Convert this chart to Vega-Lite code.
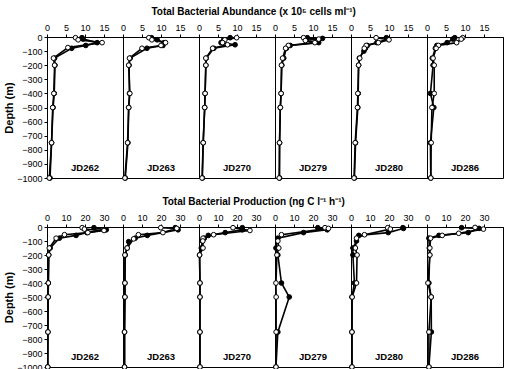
{
  "$schema": "https://vega.github.io/schema/vega-lite/v6.json",
  "padding": {"left": 3, "top": 7, "right": 0, "bottom": 0},
  "background": "white",
  "datasets": {
    "abundance": [
      {"cast": "JD262", "series": "filled", "depth": -5, "value": 9.2},
      {"cast": "JD262", "series": "filled", "depth": -15, "value": 9.5},
      {"cast": "JD262", "series": "filled", "depth": -40, "value": 13.2},
      {"cast": "JD262", "series": "filled", "depth": -60, "value": 10.2},
      {"cast": "JD262", "series": "filled", "depth": -80, "value": 6.5},
      {"cast": "JD262", "series": "filled", "depth": -150, "value": 2.0},
      {"cast": "JD262", "series": "filled", "depth": -200, "value": 2.1},
      {"cast": "JD262", "series": "filled", "depth": -400, "value": 1.9},
      {"cast": "JD262", "series": "filled", "depth": -500, "value": 1.6},
      {"cast": "JD262", "series": "filled", "depth": -750, "value": 1.2},
      {"cast": "JD262", "series": "filled", "depth": -1000, "value": 0.8},
      {"cast": "JD262", "series": "open", "depth": -5, "value": 7.5},
      {"cast": "JD262", "series": "open", "depth": -20, "value": 8.2},
      {"cast": "JD262", "series": "open", "depth": -40, "value": 14.5},
      {"cast": "JD262", "series": "open", "depth": -75, "value": 5.5},
      {"cast": "JD262", "series": "open", "depth": -150, "value": 1.7},
      {"cast": "JD262", "series": "open", "depth": -200, "value": 2.0},
      {"cast": "JD262", "series": "open", "depth": -400, "value": 1.8},
      {"cast": "JD262", "series": "open", "depth": -500, "value": 1.5},
      {"cast": "JD262", "series": "open", "depth": -750, "value": 1.2},
      {"cast": "JD262", "series": "open", "depth": -1000, "value": 0.6},

      {"cast": "JD263", "series": "filled", "depth": -5, "value": 7.5},
      {"cast": "JD263", "series": "filled", "depth": -20, "value": 9.0},
      {"cast": "JD263", "series": "filled", "depth": -40, "value": 10.8},
      {"cast": "JD263", "series": "filled", "depth": -60, "value": 10.5},
      {"cast": "JD263", "series": "filled", "depth": -80, "value": 6.3},
      {"cast": "JD263", "series": "filled", "depth": -150, "value": 1.9},
      {"cast": "JD263", "series": "filled", "depth": -200, "value": 1.6},
      {"cast": "JD263", "series": "filled", "depth": -400, "value": 1.7},
      {"cast": "JD263", "series": "filled", "depth": -500, "value": 1.5},
      {"cast": "JD263", "series": "filled", "depth": -750, "value": 1.3},
      {"cast": "JD263", "series": "filled", "depth": -1000, "value": 0.6},
      {"cast": "JD263", "series": "open", "depth": -5, "value": 6.8},
      {"cast": "JD263", "series": "open", "depth": -20, "value": 7.6},
      {"cast": "JD263", "series": "open", "depth": -40, "value": 11.2},
      {"cast": "JD263", "series": "open", "depth": -60, "value": 10.0},
      {"cast": "JD263", "series": "open", "depth": -80, "value": 5.0},
      {"cast": "JD263", "series": "open", "depth": -150, "value": 1.7},
      {"cast": "JD263", "series": "open", "depth": -200, "value": 1.5},
      {"cast": "JD263", "series": "open", "depth": -400, "value": 1.8},
      {"cast": "JD263", "series": "open", "depth": -500, "value": 1.5},
      {"cast": "JD263", "series": "open", "depth": -750, "value": 1.2},
      {"cast": "JD263", "series": "open", "depth": -1000, "value": 0.5},

      {"cast": "JD270", "series": "filled", "depth": -5, "value": 8.2},
      {"cast": "JD270", "series": "filled", "depth": -20, "value": 6.5},
      {"cast": "JD270", "series": "filled", "depth": -40, "value": 5.8},
      {"cast": "JD270", "series": "filled", "depth": -55, "value": 9.5},
      {"cast": "JD270", "series": "filled", "depth": -80, "value": 3.9},
      {"cast": "JD270", "series": "filled", "depth": -150, "value": 1.9},
      {"cast": "JD270", "series": "filled", "depth": -200, "value": 1.8},
      {"cast": "JD270", "series": "filled", "depth": -400, "value": 1.6},
      {"cast": "JD270", "series": "filled", "depth": -500, "value": 1.5},
      {"cast": "JD270", "series": "filled", "depth": -750, "value": 1.1},
      {"cast": "JD270", "series": "filled", "depth": -1000, "value": 0.9},
      {"cast": "JD270", "series": "open", "depth": -5, "value": 9.9},
      {"cast": "JD270", "series": "open", "depth": -20, "value": 6.8},
      {"cast": "JD270", "series": "open", "depth": -40, "value": 6.2},
      {"cast": "JD270", "series": "open", "depth": -55, "value": 7.5},
      {"cast": "JD270", "series": "open", "depth": -80, "value": 3.6},
      {"cast": "JD270", "series": "open", "depth": -150, "value": 1.8},
      {"cast": "JD270", "series": "open", "depth": -200, "value": 1.8},
      {"cast": "JD270", "series": "open", "depth": -400, "value": 1.6},
      {"cast": "JD270", "series": "open", "depth": -500, "value": 1.5},
      {"cast": "JD270", "series": "open", "depth": -750, "value": 1.1},
      {"cast": "JD270", "series": "open", "depth": -1000, "value": 0.8},

      {"cast": "JD279", "series": "filled", "depth": -5, "value": 8.5},
      {"cast": "JD279", "series": "filled", "depth": -10, "value": 12.5},
      {"cast": "JD279", "series": "filled", "depth": -40, "value": 11.5},
      {"cast": "JD279", "series": "filled", "depth": -60, "value": 4.0},
      {"cast": "JD279", "series": "filled", "depth": -80, "value": 3.0},
      {"cast": "JD279", "series": "filled", "depth": -150, "value": 2.3},
      {"cast": "JD279", "series": "filled", "depth": -200, "value": 1.8},
      {"cast": "JD279", "series": "filled", "depth": -400, "value": 1.6},
      {"cast": "JD279", "series": "filled", "depth": -500, "value": 1.4},
      {"cast": "JD279", "series": "filled", "depth": -750, "value": 1.2},
      {"cast": "JD279", "series": "filled", "depth": -1000, "value": 1.2},
      {"cast": "JD279", "series": "open", "depth": -5, "value": 7.5},
      {"cast": "JD279", "series": "open", "depth": -15, "value": 11.5},
      {"cast": "JD279", "series": "open", "depth": -25, "value": 8.0},
      {"cast": "JD279", "series": "open", "depth": -40, "value": 10.5},
      {"cast": "JD279", "series": "open", "depth": -60, "value": 3.5},
      {"cast": "JD279", "series": "open", "depth": -80, "value": 2.8},
      {"cast": "JD279", "series": "open", "depth": -150, "value": 2.0},
      {"cast": "JD279", "series": "open", "depth": -200, "value": 1.7},
      {"cast": "JD279", "series": "open", "depth": -400, "value": 1.6},
      {"cast": "JD279", "series": "open", "depth": -500, "value": 1.4},
      {"cast": "JD279", "series": "open", "depth": -750, "value": 1.2},
      {"cast": "JD279", "series": "open", "depth": -1000, "value": 1.1},

      {"cast": "JD280", "series": "filled", "depth": -5, "value": 9.3},
      {"cast": "JD280", "series": "filled", "depth": -15, "value": 9.8},
      {"cast": "JD280", "series": "filled", "depth": -40, "value": 6.8},
      {"cast": "JD280", "series": "filled", "depth": -60, "value": 4.3},
      {"cast": "JD280", "series": "filled", "depth": -80, "value": 3.8},
      {"cast": "JD280", "series": "filled", "depth": -100, "value": 3.4},
      {"cast": "JD280", "series": "filled", "depth": -150, "value": 2.2},
      {"cast": "JD280", "series": "filled", "depth": -200, "value": 2.0},
      {"cast": "JD280", "series": "filled", "depth": -400, "value": 1.9},
      {"cast": "JD280", "series": "filled", "depth": -500, "value": 1.8},
      {"cast": "JD280", "series": "filled", "depth": -750, "value": 1.2},
      {"cast": "JD280", "series": "filled", "depth": -1000, "value": 0.9},
      {"cast": "JD280", "series": "open", "depth": -5, "value": 6.6},
      {"cast": "JD280", "series": "open", "depth": -20, "value": 10.0},
      {"cast": "JD280", "series": "open", "depth": -40, "value": 7.2},
      {"cast": "JD280", "series": "open", "depth": -60, "value": 4.0},
      {"cast": "JD280", "series": "open", "depth": -80, "value": 3.5},
      {"cast": "JD280", "series": "open", "depth": -150, "value": 2.3},
      {"cast": "JD280", "series": "open", "depth": -200, "value": 2.0},
      {"cast": "JD280", "series": "open", "depth": -400, "value": 1.8},
      {"cast": "JD280", "series": "open", "depth": -500, "value": 1.7},
      {"cast": "JD280", "series": "open", "depth": -750, "value": 1.1},
      {"cast": "JD280", "series": "open", "depth": -1000, "value": 0.8},

      {"cast": "JD286", "series": "filled", "depth": -5, "value": 7.3},
      {"cast": "JD286", "series": "filled", "depth": -15, "value": 6.8},
      {"cast": "JD286", "series": "filled", "depth": -40, "value": 5.3},
      {"cast": "JD286", "series": "filled", "depth": -60, "value": 2.6},
      {"cast": "JD286", "series": "filled", "depth": -80, "value": 2.2},
      {"cast": "JD286", "series": "filled", "depth": -150, "value": 1.4},
      {"cast": "JD286", "series": "filled", "depth": -200, "value": 1.6},
      {"cast": "JD286", "series": "filled", "depth": -400, "value": 0.9},
      {"cast": "JD286", "series": "filled", "depth": -500, "value": 1.8},
      {"cast": "JD286", "series": "filled", "depth": -750, "value": 0.9},
      {"cast": "JD286", "series": "filled", "depth": -1000, "value": 1.0},
      {"cast": "JD286", "series": "open", "depth": -5, "value": 9.4},
      {"cast": "JD286", "series": "open", "depth": -15, "value": 9.0},
      {"cast": "JD286", "series": "open", "depth": -40, "value": 7.8},
      {"cast": "JD286", "series": "open", "depth": -60, "value": 3.0},
      {"cast": "JD286", "series": "open", "depth": -80, "value": 2.4},
      {"cast": "JD286", "series": "open", "depth": -150, "value": 1.6},
      {"cast": "JD286", "series": "open", "depth": -200, "value": 1.9},
      {"cast": "JD286", "series": "open", "depth": -400, "value": 1.9},
      {"cast": "JD286", "series": "open", "depth": -500, "value": 1.3},
      {"cast": "JD286", "series": "open", "depth": -750, "value": 1.1},
      {"cast": "JD286", "series": "open", "depth": -1000, "value": 1.0}
    ],
    "production": [
      {"cast": "JD262", "series": "filled", "depth": -5, "value": 24.7},
      {"cast": "JD262", "series": "filled", "depth": -20, "value": 31.2},
      {"cast": "JD262", "series": "filled", "depth": -40, "value": 21.0},
      {"cast": "JD262", "series": "filled", "depth": -60, "value": 15.3},
      {"cast": "JD262", "series": "filled", "depth": -80, "value": 6.5},
      {"cast": "JD262", "series": "filled", "depth": -150, "value": 1.7},
      {"cast": "JD262", "series": "filled", "depth": -200, "value": 0.9},
      {"cast": "JD262", "series": "filled", "depth": -400, "value": 0.7},
      {"cast": "JD262", "series": "filled", "depth": -500, "value": 0.6},
      {"cast": "JD262", "series": "filled", "depth": -750, "value": 0.5},
      {"cast": "JD262", "series": "filled", "depth": -1000, "value": 0.4},
      {"cast": "JD262", "series": "open", "depth": -5, "value": 18.5},
      {"cast": "JD262", "series": "open", "depth": -15, "value": 19.7},
      {"cast": "JD262", "series": "open", "depth": -25, "value": 30.0},
      {"cast": "JD262", "series": "open", "depth": -40, "value": 21.5},
      {"cast": "JD262", "series": "open", "depth": -55, "value": 9.2},
      {"cast": "JD262", "series": "open", "depth": -80, "value": 4.8},
      {"cast": "JD262", "series": "open", "depth": -150, "value": 1.2},
      {"cast": "JD262", "series": "open", "depth": -200, "value": 0.9},
      {"cast": "JD262", "series": "open", "depth": -400, "value": 0.7},
      {"cast": "JD262", "series": "open", "depth": -500, "value": 0.6},
      {"cast": "JD262", "series": "open", "depth": -750, "value": 0.5},
      {"cast": "JD262", "series": "open", "depth": -1000, "value": 0.4},

      {"cast": "JD263", "series": "filled", "depth": -5, "value": 27.5},
      {"cast": "JD263", "series": "filled", "depth": -20, "value": 29.0},
      {"cast": "JD263", "series": "filled", "depth": -60, "value": 12.8},
      {"cast": "JD263", "series": "filled", "depth": -80, "value": 6.4},
      {"cast": "JD263", "series": "filled", "depth": -105, "value": 3.0},
      {"cast": "JD263", "series": "filled", "depth": -150, "value": 2.2},
      {"cast": "JD263", "series": "filled", "depth": -200, "value": 1.2},
      {"cast": "JD263", "series": "filled", "depth": -400, "value": 1.0},
      {"cast": "JD263", "series": "filled", "depth": -500, "value": 1.0},
      {"cast": "JD263", "series": "filled", "depth": -750, "value": 0.8},
      {"cast": "JD263", "series": "filled", "depth": -1000, "value": 0.8},
      {"cast": "JD263", "series": "open", "depth": -5, "value": 19.9},
      {"cast": "JD263", "series": "open", "depth": -10, "value": 28.3},
      {"cast": "JD263", "series": "open", "depth": -40, "value": 21.0},
      {"cast": "JD263", "series": "open", "depth": -55, "value": 8.1},
      {"cast": "JD263", "series": "open", "depth": -85, "value": 5.6},
      {"cast": "JD263", "series": "open", "depth": -150, "value": 2.2},
      {"cast": "JD263", "series": "open", "depth": -200, "value": 1.0},
      {"cast": "JD263", "series": "open", "depth": -400, "value": 1.0},
      {"cast": "JD263", "series": "open", "depth": -500, "value": 1.0},
      {"cast": "JD263", "series": "open", "depth": -750, "value": 0.8},
      {"cast": "JD263", "series": "open", "depth": -1000, "value": 0.8},

      {"cast": "JD270", "series": "filled", "depth": -5, "value": 22.8},
      {"cast": "JD270", "series": "filled", "depth": -20, "value": 22.8},
      {"cast": "JD270", "series": "filled", "depth": -40, "value": 13.8},
      {"cast": "JD270", "series": "filled", "depth": -60, "value": 4.9},
      {"cast": "JD270", "series": "filled", "depth": -80, "value": 2.8},
      {"cast": "JD270", "series": "filled", "depth": -100, "value": 1.8},
      {"cast": "JD270", "series": "filled", "depth": -150, "value": 1.2},
      {"cast": "JD270", "series": "filled", "depth": -200, "value": 0.3},
      {"cast": "JD270", "series": "filled", "depth": -400, "value": 0.5},
      {"cast": "JD270", "series": "filled", "depth": -500, "value": 0.5},
      {"cast": "JD270", "series": "filled", "depth": -750, "value": 0.5},
      {"cast": "JD270", "series": "filled", "depth": -1000, "value": 0.5},
      {"cast": "JD270", "series": "open", "depth": -5, "value": 17.9},
      {"cast": "JD270", "series": "open", "depth": -25, "value": 26.8},
      {"cast": "JD270", "series": "open", "depth": -55, "value": 7.7},
      {"cast": "JD270", "series": "open", "depth": -80, "value": 2.1},
      {"cast": "JD270", "series": "open", "depth": -100, "value": 2.0},
      {"cast": "JD270", "series": "open", "depth": -150, "value": 2.1},
      {"cast": "JD270", "series": "open", "depth": -200, "value": 0.3},
      {"cast": "JD270", "series": "open", "depth": -400, "value": 0.5},
      {"cast": "JD270", "series": "open", "depth": -500, "value": 0.5},
      {"cast": "JD270", "series": "open", "depth": -750, "value": 0.5},
      {"cast": "JD270", "series": "open", "depth": -1000, "value": 0.5},

      {"cast": "JD279", "series": "filled", "depth": -5, "value": 22.5},
      {"cast": "JD279", "series": "filled", "depth": -20, "value": 27.5},
      {"cast": "JD279", "series": "filled", "depth": -40, "value": 15.0},
      {"cast": "JD279", "series": "filled", "depth": -80, "value": 1.5},
      {"cast": "JD279", "series": "filled", "depth": -150, "value": 0.5},
      {"cast": "JD279", "series": "filled", "depth": -200, "value": 1.5},
      {"cast": "JD279", "series": "filled", "depth": -400, "value": 3.4},
      {"cast": "JD279", "series": "filled", "depth": -500, "value": 7.5},
      {"cast": "JD279", "series": "filled", "depth": -750, "value": 1.5},
      {"cast": "JD279", "series": "filled", "depth": -1000, "value": 0.5},
      {"cast": "JD279", "series": "open", "depth": -5, "value": 26.3},
      {"cast": "JD279", "series": "open", "depth": -10, "value": 28.1},
      {"cast": "JD279", "series": "open", "depth": -55, "value": 3.4},
      {"cast": "JD279", "series": "open", "depth": -100, "value": 1.5},
      {"cast": "JD279", "series": "open", "depth": -150, "value": 2.0},
      {"cast": "JD279", "series": "open", "depth": -200, "value": 1.0},
      {"cast": "JD279", "series": "open", "depth": -400, "value": 0.5},
      {"cast": "JD279", "series": "open", "depth": -500, "value": 0.6},
      {"cast": "JD279", "series": "open", "depth": -750, "value": 0.6},
      {"cast": "JD279", "series": "open", "depth": -1000, "value": 0.5},

      {"cast": "JD280", "series": "filled", "depth": -5, "value": 27.3},
      {"cast": "JD280", "series": "filled", "depth": -10, "value": 27.6},
      {"cast": "JD280", "series": "filled", "depth": -40, "value": 19.6},
      {"cast": "JD280", "series": "filled", "depth": -60, "value": 4.1},
      {"cast": "JD280", "series": "filled", "depth": -100, "value": 2.9},
      {"cast": "JD280", "series": "filled", "depth": -150, "value": 1.0},
      {"cast": "JD280", "series": "filled", "depth": -200, "value": 1.0},
      {"cast": "JD280", "series": "filled", "depth": -400, "value": 1.8},
      {"cast": "JD280", "series": "filled", "depth": -500, "value": 0.5},
      {"cast": "JD280", "series": "filled", "depth": -750, "value": 0.5},
      {"cast": "JD280", "series": "filled", "depth": -1000, "value": 0.5},
      {"cast": "JD280", "series": "open", "depth": -5, "value": 19.3},
      {"cast": "JD280", "series": "open", "depth": -15, "value": 20.7},
      {"cast": "JD280", "series": "open", "depth": -55, "value": 7.1},
      {"cast": "JD280", "series": "open", "depth": -80, "value": 2.9},
      {"cast": "JD280", "series": "open", "depth": -150, "value": 2.3},
      {"cast": "JD280", "series": "open", "depth": -200, "value": 3.2},
      {"cast": "JD280", "series": "open", "depth": -400, "value": 2.9},
      {"cast": "JD280", "series": "open", "depth": -500, "value": 0.6},
      {"cast": "JD280", "series": "open", "depth": -750, "value": 0.5},
      {"cast": "JD280", "series": "open", "depth": -1000, "value": 0.5},

      {"cast": "JD286", "series": "filled", "depth": -5, "value": 18.2},
      {"cast": "JD286", "series": "filled", "depth": -10, "value": 27.4},
      {"cast": "JD286", "series": "filled", "depth": -40, "value": 21.7},
      {"cast": "JD286", "series": "filled", "depth": -60, "value": 6.3},
      {"cast": "JD286", "series": "filled", "depth": -80, "value": 1.0},
      {"cast": "JD286", "series": "filled", "depth": -150, "value": 1.2},
      {"cast": "JD286", "series": "filled", "depth": -200, "value": 1.4},
      {"cast": "JD286", "series": "filled", "depth": -400, "value": 1.0},
      {"cast": "JD286", "series": "filled", "depth": -500, "value": 2.2},
      {"cast": "JD286", "series": "filled", "depth": -750, "value": 2.3},
      {"cast": "JD286", "series": "filled", "depth": -1000, "value": 1.0},
      {"cast": "JD286", "series": "open", "depth": -3, "value": 25.3},
      {"cast": "JD286", "series": "open", "depth": -15, "value": 29.7},
      {"cast": "JD286", "series": "open", "depth": -45, "value": 16.7},
      {"cast": "JD286", "series": "open", "depth": -60, "value": 8.0},
      {"cast": "JD286", "series": "open", "depth": -80, "value": 1.9},
      {"cast": "JD286", "series": "open", "depth": -150, "value": 1.5},
      {"cast": "JD286", "series": "open", "depth": -200, "value": 1.5},
      {"cast": "JD286", "series": "open", "depth": -400, "value": 0.5},
      {"cast": "JD286", "series": "open", "depth": -500, "value": 2.2},
      {"cast": "JD286", "series": "open", "depth": -750, "value": 1.0},
      {"cast": "JD286", "series": "open", "depth": -1000, "value": 1.0}
    ]
  },
  "vconcat": [
    {
      "data": {"name": "abundance"},
      "title": {"text": "Total Bacterial Abundance (x 10⁵ cells ml⁻¹)", "fontSize": 10, "fontWeight": "bold", "anchor": "middle", "offset": 6},
      "facet": {"column": {"field": "cast", "type": "nominal", "header": {"title": null, "labels": false}}},
      "spacing": 0,
      "bounds": "flush",
      "spec": {
        "width": 76,
        "height": 141,
        "encoding": {
          "x": {"field": "value", "type": "quantitative", "scale": {"domain": [0, 20]},
                "axis": {"orient": "top", "values": [0, 5, 10, 15], "title": null, "labelOverlap": false, "labelBound": false, "labelFlush": false}},
          "y": {"field": "depth", "type": "quantitative", "scale": {"domain": [-1000, 0]},
                "axis": {"values": [0, -100, -200, -300, -400, -500, -600, -700, -800, -900, -1000], "format": "d", "title": "Depth (m)", "labelOverlap": false, "labelBound": false}}
        },
        "layer": [
          {
            "mark": {"type": "line", "color": "black", "strokeWidth": 1.6},
            "encoding": {
              "detail": {"field": "series"},
              "order": {"field": "depth"}
            }
          },
          {
            "mark": {"type": "point", "shape": "circle", "size": 22, "stroke": "black", "strokeWidth": 1, "opacity": 1},
            "encoding": {
              "fill": {"field": "series", "type": "nominal", "scale": {"domain": ["filled", "open"], "range": ["black", "white"]}, "legend": null}
            }
          },
          {
            "transform": [{"filter": "datum.series == 'filled' && datum.depth == -1000"}],
            "mark": {"type": "text", "fontSize": 9.5, "fontWeight": "bold", "baseline": "middle", "align": "center"},
            "encoding": {
              "x": {"datum": 10},
              "y": {"datum": -930},
              "text": {"field": "cast"}
            }
          }
        ]
      }
    },
    {
      "data": {"name": "production"},
      "title": {"text": "Total Bacterial Production (ng C l⁻¹ h⁻¹)", "fontSize": 10, "fontWeight": "bold", "anchor": "middle", "offset": 6},
      "facet": {"column": {"field": "cast", "type": "nominal", "header": {"title": null, "labels": false}}},
      "spacing": 0,
      "bounds": "flush",
      "spec": {
        "width": 76,
        "height": 140,
        "encoding": {
          "x": {"field": "value", "type": "quantitative", "scale": {"domain": [0, 40]},
                "axis": {"orient": "top", "values": [0, 10, 20, 30], "title": null, "labelOverlap": false, "labelBound": false, "labelFlush": false}},
          "y": {"field": "depth", "type": "quantitative", "scale": {"domain": [-1000, 0]},
                "axis": {"values": [0, -100, -200, -300, -400, -500, -600, -700, -800, -900, -1000], "format": "d", "title": "Depth (m)", "labelOverlap": false, "labelBound": false}}
        },
        "layer": [
          {
            "mark": {"type": "line", "color": "black", "strokeWidth": 1.6},
            "encoding": {
              "detail": {"field": "series"},
              "order": {"field": "depth"}
            }
          },
          {
            "mark": {"type": "point", "shape": "circle", "size": 22, "stroke": "black", "strokeWidth": 1, "opacity": 1},
            "encoding": {
              "fill": {"field": "series", "type": "nominal", "scale": {"domain": ["filled", "open"], "range": ["black", "white"]}, "legend": null}
            }
          },
          {
            "transform": [{"filter": "datum.series == 'filled' && datum.depth == -1000"}],
            "mark": {"type": "text", "fontSize": 9.5, "fontWeight": "bold", "baseline": "middle", "align": "center"},
            "encoding": {
              "x": {"datum": 20},
              "y": {"datum": -930},
              "text": {"field": "cast"}
            }
          }
        ]
      }
    }
  ],
  "spacing": 14,
  "config": {
    "font": "Liberation Sans",
    "view": {"stroke": "black", "strokeWidth": 1},
    "axis": {
      "grid": false,
      "labelFont": "Liberation Sans",
      "labelFontSize": 9,
      "labelColor": "black",
      "labelOverlap": false,
      "tickColor": "black",
      "tickSize": 3,
      "domainColor": "black",
      "labelPadding": 2,
      "titleFont": "Liberation Sans",
      "titleFontSize": 11,
      "titleFontWeight": "bold",
      "titleColor": "black",
      "titlePadding": 2
    },
    "title": {"font": "Liberation Sans", "color": "black"}
  }
}
